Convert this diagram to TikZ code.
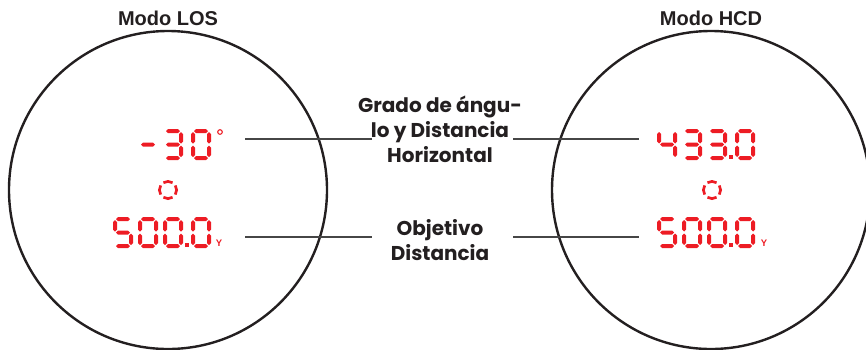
\documentclass[tikz,border=0pt]{standalone}
\usepackage{fontspec}
\usepackage{tikz}
\usetikzlibrary{positioning,calc}
\newfontfamily\gothamfont{Poppins}
\newfontfamily\narrowfont{Liberation Sans}
\definecolor{segred}{RGB}{237,28,36}
\definecolor{inkblack}{RGB}{35,31,32}
\definecolor{leadgrey}{RGB}{70,70,70}

% seven segment pieces, digit box 20 x 31
\newcommand{\hseg}[3]{\fill[segred] (#1,#3) -- (#1+2,#3-2) -- (#2-2,#3-2) -- (#2,#3) -- (#2-2,#3+2) -- (#1+2,#3+2) -- cycle;}
\newcommand{\vseg}[3]{\fill[segred] (#1,#2) -- (#1+2,#2+2) -- (#1+2,#3-2) -- (#1,#3) -- (#1-2,#3-2) -- (#1-2,#2+2) -- cycle;}
\newcommand{\sega}{\hseg{3}{17}{2}}
\newcommand{\segb}{\vseg{18}{3}{14.5}}
\newcommand{\segc}{\vseg{18}{16.5}{28}}
\newcommand{\segd}{\hseg{3}{17}{29}}
\newcommand{\sege}{\vseg{2}{16.5}{28}}
\newcommand{\segf}{\vseg{2}{3}{14.5}}
\newcommand{\segg}{\hseg{3}{17}{15.5}}

\begin{document}
\begin{tikzpicture}[x=1pt, y=-1pt,
    lens/.style={draw=inkblack, line width=2.4pt},
    lead/.style={draw=leadgrey, line width=1.2pt},
    mode/.style={font=\narrowfont\bfseries\fontsize{20}{20}\selectfont, text=inkblack},
    tag/.style={font=\gothamfont\bfseries\fontsize{20}{25}\selectfont, text=inkblack, align=center},
    unit/.style={font=\narrowfont\bfseries\fontsize{9.5}{9.5}\selectfont, text=segred},
    pics/digit/.style={code={\foreach \s in {#1} {\csname seg\s\endcsname}}},
    pics/dot/.style={code={\fill[segred] (-1.6,-1.6) rectangle (1.6,1.6);}},
    pics/aim/.style={code={
        \foreach \a in {0,90,180,270}
            \draw[segred, line width=2.7pt] (\a-32:8.6) arc[start angle=\a-32, end angle=\a+32, radius=8.6];}}]
    \useasboundingbox (0,0) rectangle (866,349);

    % lenses
    \node[circle, lens, minimum size=318pt, inner sep=0pt] (lensL) at (168,190) {};
    \node[circle, lens, minimum size=318pt, inner sep=0pt] (lensR) at (711,190) {};
    \node[mode] (modeL) at (168,18) {Modo LOS};
    \node[mode] (modeR) at (711,18) {Modo HCD};

    % left display
    \pic at (138,129) {digit={g}};
    \pic at (163,129) {digit={a,b,g,c,d}};
    \pic at (191,129) {digit={a,b,c,d,e,f}};
    \draw[segred, line width=1.1pt] (220,132) circle[radius=2.3];
    \pic at (168,190) {aim};
    \pic at (113,217) {digit={a,f,g,c,d}};
    \pic at (138,217) {digit={a,b,c,d,e,f}};
    \pic at (163,217) {digit={a,b,c,d,e,f}};
    \pic at (187,245) {dot};
    \pic at (191,217) {digit={a,b,c,d,e,f}};
    \node[unit] (unitL) at (219,243) {Y};

    % right display
    \pic at (657,129) {digit={f,g,b,c}};
    \pic at (682,129) {digit={a,b,g,c,d}};
    \pic at (707,129) {digit={a,b,g,c,d}};
    \pic at (731,157) {dot};
    \pic at (735,129) {digit={a,b,c,d,e,f}};
    \pic at (712,190) {aim};
    \pic at (657,217) {digit={a,f,g,c,d}};
    \pic at (682,217) {digit={a,b,c,d,e,f}};
    \pic at (707,217) {digit={a,b,c,d,e,f}};
    \pic at (731,245) {dot};
    \pic at (735,217) {digit={a,b,c,d,e,f}};
    \node[unit] (unitR) at (764,243) {Y};

    % labels in the middle
    \node[tag] (angtext) at (440,129) {Grado de ángu-\\lo y Distancia\\Horizontal};
    \node[tag] (disttext) at (440,240) {Objetivo\\Distancia};

    \coordinate (angL1) at (245,139);
    \coordinate (angL2) at (372,139);
    \coordinate (angR1) at (513,139);
    \coordinate (angR2) at (639,139);
    \coordinate (distL1) at (245,237);
    \coordinate (distL2) at (372,237);
    \coordinate (distR1) at (513,237);
    \coordinate (distR2) at (639,237);
    \draw[lead] (angL1) -- (angL2);
    \draw[lead] (angR1) -- (angR2);
    \draw[lead] (distL1) -- (distL2);
    \draw[lead] (distR1) -- (distR2);
\end{tikzpicture}
\end{document}
